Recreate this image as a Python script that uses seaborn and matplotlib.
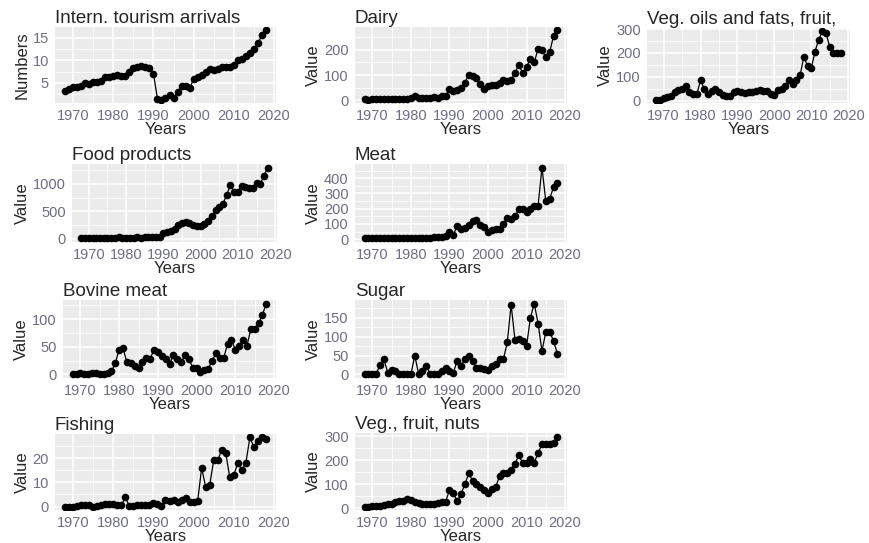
import seaborn as sns
import pandas as pd
import numpy as np
import matplotlib.pyplot as plt

years = list(range(1968, 2019))

tourism = [3.2, 3.6, 4.0, 4.1, 4.4, 5.0, 4.8, 5.1, 5.2, 5.5, 6.2, 6.4, 6.5, 6.8, 6.5, 6.6, 7.4,
           8.3, 8.4, 8.7, 8.6, 8.2, 7.0, 1.5, 1.3, 1.6, 2.4, 1.6, 3.0, 4.2, 4.4, 3.8, 5.8, 6.3,
           6.8, 7.3, 8.0, 7.8, 8.0, 8.5, 8.6, 8.6, 9.0, 10.0, 10.3, 11.0, 11.5, 12.5, 13.8, 15.5, 16.6]
dairy = [5, 2, 3, 4, 6, 4, 4, 4, 4, 5, 5, 6, 8, 15, 8, 8, 8, 8, 12, 10, 18, 15, 45, 35, 42, 50,
         70, 100, 95, 88, 65, 45, 55, 60, 62, 68, 82, 78, 80, 110, 140, 108, 132, 165, 150, 205,
         200, 172, 192, 255, 278]
veg_oils = [5, 5, 12, 15, 20, 35, 45, 48, 62, 38, 30, 28, 85, 50, 30, 40, 50, 35, 25, 18, 20, 35,
            42, 38, 32, 38, 35, 42, 45, 42, 40, 30, 25, 45, 48, 62, 88, 72, 85, 108, 185, 145, 135,
            205, 255, 290, 285, 225, 200, 200, 200]
food = [5, 5, 8, 10, 12, 15, 18, 20, 22, 20, 25, 22, 20, 18, 20, 25, 22, 28, 25, 30, 35, 40, 100,
        120, 150, 170, 250, 290, 300, 280, 250, 230, 230, 260, 330, 420, 520, 580, 640, 800, 980,
        860, 860, 960, 940, 920, 930, 1020, 1000, 1150, 1300]
meat = [5, 5, 6, 7, 8, 10, 9, 8, 7, 9, 10, 9, 10, 8, 9, 10, 9, 11, 12, 13, 15, 20, 50, 30, 85, 70,
        75, 90, 120, 125, 90, 80, 50, 60, 65, 70, 100, 140, 130, 150, 195, 200, 180, 200, 215,
        220, 470, 250, 265, 340, 370]
bovine = [0, 0, 2, 0, 0, 2, 2, 0, 0, 3, 6, 20, 45, 47, 22, 20, 15, 12, 22, 30, 28, 45, 40, 33, 28,
          18, 35, 28, 22, 35, 28, 12, 12, 5, 8, 10, 25, 38, 30, 30, 55, 62, 45, 52, 63, 52, 82,
          82, 92, 108, 128]
sugar = [0, 0, 0, 2, 25, 40, 5, 12, 10, 0, 0, 0, 0, 50, 2, 8, 22, 2, 2, 2, 10, 18, 10, 5, 35, 22,
         42, 50, 35, 18, 17, 15, 12, 22, 28, 42, 40, 85, 185, 92, 95, 88, 75, 150, 188, 135, 62,
         112, 112, 90, 55]
fishing = [0, 0, 0, 0.3, 0.5, 0.8, 0.7, 0, 0.2, 0.8, 1.2, 1.2, 1.0, 0.8, 0.5, 3.8, 0.2, 0.3, 0.5,
           0.5, 0.8, 0.8, 1.5, 1.0, 0.3, 2.5, 2.2, 2.7, 2.0, 2.5, 3.5, 2.0, 1.8, 2.2, 16, 8, 9, 19,
           19, 23.5, 22, 12, 13, 18, 15, 18, 28.5, 24.5, 27, 28.5, 27.8]
veg_fruit = [8, 8, 10, 12, 12, 15, 18, 20, 25, 30, 32, 40, 35, 28, 22, 20, 18, 18, 20, 22, 25, 28,
             75, 65, 30, 60, 100, 145, 115, 100, 88, 75, 65, 80, 88, 135, 145, 148, 160, 185, 220,
             188, 188, 205, 190, 230, 265, 265, 268, 272, 298]

titles = ["Intern. tourism arrivals", "Dairy", "Veg. oils and fats, fruit,", "Food products",
          "Meat", "Bovine meat", "Sugar", "Fishing", "Veg., fruit, nuts"]
ylabels = ["Numbers"] + ["Value"] * 8
series = [tourism, dairy, veg_oils, food, meat, bovine, sugar, fishing, veg_fruit]
yticks = [[5, 10, 15], [0, 100, 200], [0, 100, 200, 300], [0, 500, 1000],
          [0, 100, 200, 300, 400], [0, 50, 100], [0, 50, 100, 150], [0, 10, 20],
          [0, 100, 200, 300]]

# panel boxes in pixels: left, top, right, bottom
W, H = 870, 543
boxes = [(55, 27, 276, 103), (355, 27, 567, 103), (647, 28, 850, 103),
         (72, 164, 277, 242), (355, 164, 567, 242),
         (63, 300, 276, 378), (355, 300, 567, 378),
         (55, 434, 276, 510), (355, 433, 567, 510)]

sns.set_theme(style="darkgrid")
plt.rcParams['font.family'] = ['Liberation Sans', 'DejaVu Sans']

fig = plt.figure(figsize=(W / 100, H / 100), dpi=100)
fig.patch.set_facecolor("white")

for i in range(9):
    l, t, r, b = boxes[i]
    ax = fig.add_axes([l / W, 1 - b / H, (r - l) / W, (b - t) / H])
    df = pd.DataFrame({"Years": years, "Value": series[i]})
    sns.lineplot(data=df, x="Years", y="Value", ax=ax, color="black", linewidth=0.9,
                 marker="o", markersize=5.5, markeredgewidth=0)
    ax.set_facecolor("#EBEBEB")
    ax.set_xlim(1965.5, 2020.5)
    v = np.array(series[i])
    pad = (v.max() - v.min()) * 0.05
    ax.set_xticks([1970, 1980, 1990, 2000, 2010, 2020])
    ax.set_xticks([1975, 1985, 1995, 2005, 2015], minor=True)
    yt = yticks[i]
    ax.set_yticks(yt)
    step = yt[1] - yt[0]
    ax.set_yticks([y + step / 2 for y in [yt[0] - step] + yt], minor=True)
    ax.set_ylim(v.min() - pad, v.max() + pad)
    ax.grid(which="major", color="white", linewidth=1.1)
    ax.grid(which="minor", color="white", linewidth=0.55)
    for s in ax.spines.values():
        s.set_visible(False)
    ax.tick_params(which="major", length=3, width=0.7, color="#444444",
                   labelcolor="#6e6e84", labelsize=10.5, pad=1.5)
    ax.tick_params(which="minor", length=0)
    ax.set_xlabel("Years", fontsize=12, labelpad=-1)
    ax.set_ylabel(ylabels[i], fontsize=12, labelpad=2)
    ax.set_title(titles[i], loc="left", fontsize=13.5, pad=3)

fig.savefig("out.png", dpi=100)
